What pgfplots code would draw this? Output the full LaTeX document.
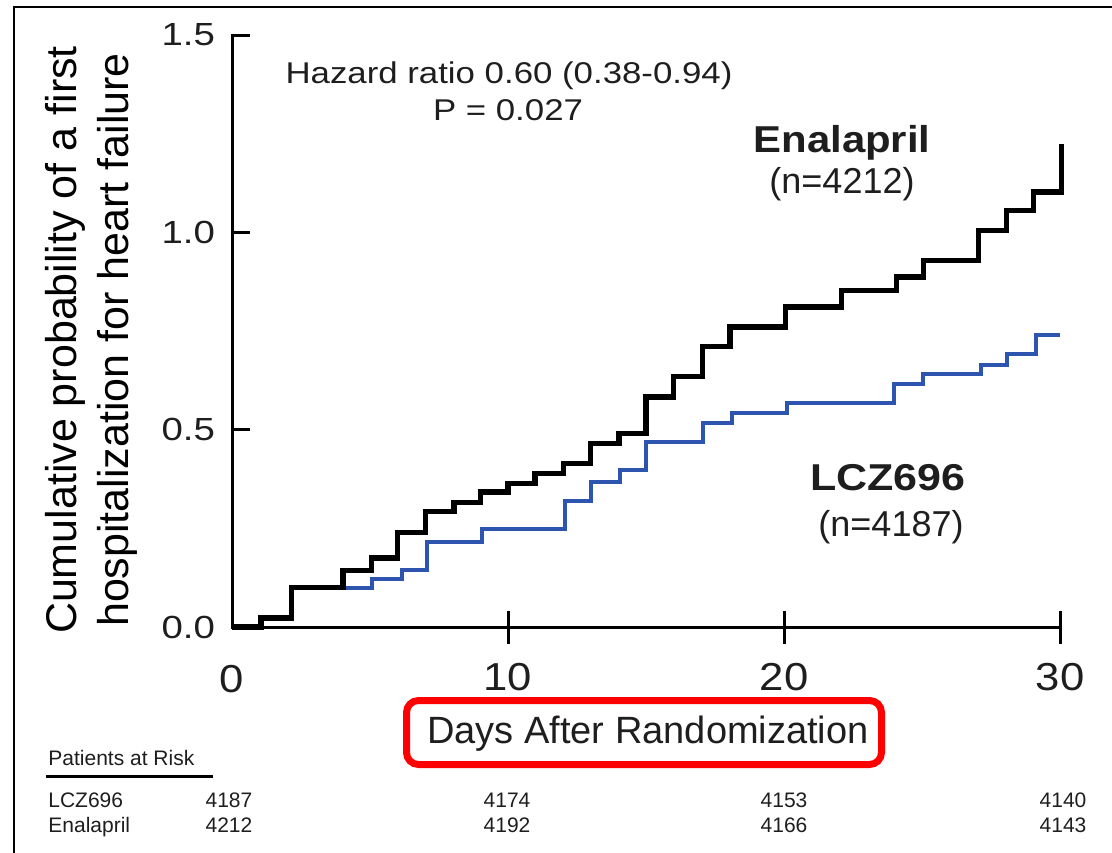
\documentclass[border=0pt]{standalone}
\usepackage{pgfplots}
\pgfplotsset{compat=1.18}
\usepackage{fontspec}
\setmainfont{Liberation Sans}
\usepackage{graphicx}
\definecolor{lczblue}{RGB}{45,85,175}
\definecolor{txt}{RGB}{30,30,30}
\newcommand\sx[2]{\scalebox{#1}[1]{#2}}
\begin{document}
\begin{tikzpicture}
\path[use as bounding box] (0,0) rectangle (556pt,-426pt);
\begin{axis}[
  at={(116pt,-313.5pt)}, anchor=south west,
  scale only axis, width=414pt, height=296pt,
  xmin=0, xmax=30, ymin=0, ymax=1.5,
  clip=false,
  axis lines*=left,
  axis line style={line width=1.5pt, line cap=rect},
  tick align=inside,
  major tick length=9pt,
  tick style={line width=1.5pt, black},
  xtick={0}, xticklabels={\sx{1.12}{0}},
  extra x ticks={10,20,30},
  extra x tick labels={\sx{1.12}{10},\sx{1.12}{20},\sx{1.12}{30}},
  extra tick style={tick align=center, major tick length=16.5pt, xticklabel style={yshift=9pt}},
  ytick={0,0.5,1,1.5},
  yticklabels={\sx{1.2}{0.0},\sx{1.2}{0.5},\sx{1.2}{1.0},\sx{1.2}{1.5}},
  xticklabel style={font=\fontsize{19.5}{22}\selectfont, text=txt, yshift=-15.5pt},
  yticklabel style={font=\fontsize{16}{19}\selectfont, text=txt, xshift=-5pt},
]
\addplot[const plot, lczblue, line width=2pt] coordinates {
(0,0) (1.05,0.023) (2.15,0.10) (5.06,0.122) (6.15,0.144) (7.05,0.216)
(9.05,0.248) (12.07,0.32) (13.0,0.368) (14.06,0.397) (15.0,0.469)
(17.08,0.516) (18.1,0.541) (20.1,0.568) (24.0,0.617) (25.05,0.642)
(27.12,0.663) (28.07,0.693) (29.12,0.739) (30.0,0.739)};
\addplot[const plot, black, line width=2.6pt] coordinates {
(0,0) (1.05,0.023) (2.15,0.10) (4.02,0.143) (5.05,0.175) (6.0,0.24)
(7.0,0.292) (8.04,0.316) (9.0,0.342) (10.0,0.364) (10.98,0.389)
(12.0,0.414) (13.0,0.465) (14.02,0.49) (15.0,0.583) (16.0,0.634)
(17.04,0.71) (18.04,0.76) (20.05,0.811) (22.08,0.853) (24.08,0.887)
(25.05,0.929) (27.04,1.005) (28.07,1.056) (29.03,1.102) (30.05,1.225)};
\end{axis}
\begin{scope}[x=0.5pt, y=-0.5pt]
  % frame
  \draw[line width=1.25pt] (14,870) -- (14,7) -- (1130,7);
  % y label
  \node[rotate=90, align=center, text=black, font=\fontsize{21.5}{26}\selectfont]
    at (91,340) {Cumulative probability of a first\\hospitalization for heart failure};
  % hazard text
  \node[anchor=base, text=txt, font=\fontsize{15}{18}\selectfont] at (509,83) {\sx{1.16}{Hazard ratio 0.60 (0.38-0.94)}};
  \node[anchor=base, text=txt, font=\fontsize{15}{18}\selectfont] at (508,120) {\sx{1.16}{P = 0.027}};
  % group labels
  \node[anchor=base, text=txt, font=\fontsize{18.7}{22}\selectfont\bfseries] at (842,152) {\sx{1.12}{Enalapril}};
  \node[anchor=base, text=txt, font=\fontsize{18}{21}\selectfont] at (842,193) {(n=4212)};
  \node[anchor=base, text=txt, font=\fontsize{18.7}{22}\selectfont\bfseries] at (888,490) {\sx{1.15}{LCZ696}};
  \node[anchor=base, text=txt, font=\fontsize{18}{21}\selectfont] at (891,536) {(n=4187)};
  % x label and red box
  \node[anchor=base, text=txt, font=\fontsize{19}{22}\selectfont] at (648,743) {Days After Randomization};
  \draw[red, line width=3.5pt, rounded corners=6pt] (406.5,700.5) rectangle (881.5,764.5);
  % at-risk table
  \node[anchor=base west, inner sep=0, text=txt, font=\fontsize{10.5}{12}\selectfont] at (48,765) {Patients at Risk};
  \draw[line width=1.5pt] (46,776) -- (213,776);
  \node[anchor=base west, inner sep=0, text=txt, font=\fontsize{10.5}{12}\selectfont] at (48,807) {LCZ696};
  \node[anchor=base west, inner sep=0, text=txt, font=\fontsize{10.5}{12}\selectfont] at (48,832) {Enalapril};
  \foreach \xx/\a/\b in {229/4187/4212, 507/4174/4192, 784/4153/4166, 1063/4140/4143} {
    \node[anchor=base, inner sep=0, text=txt, font=\fontsize{10.5}{12}\selectfont] at (\xx,807) {\a};
    \node[anchor=base, inner sep=0, text=txt, font=\fontsize{10.5}{12}\selectfont] at (\xx,832) {\b};
  }
\end{scope}
\end{tikzpicture}
\end{document}
